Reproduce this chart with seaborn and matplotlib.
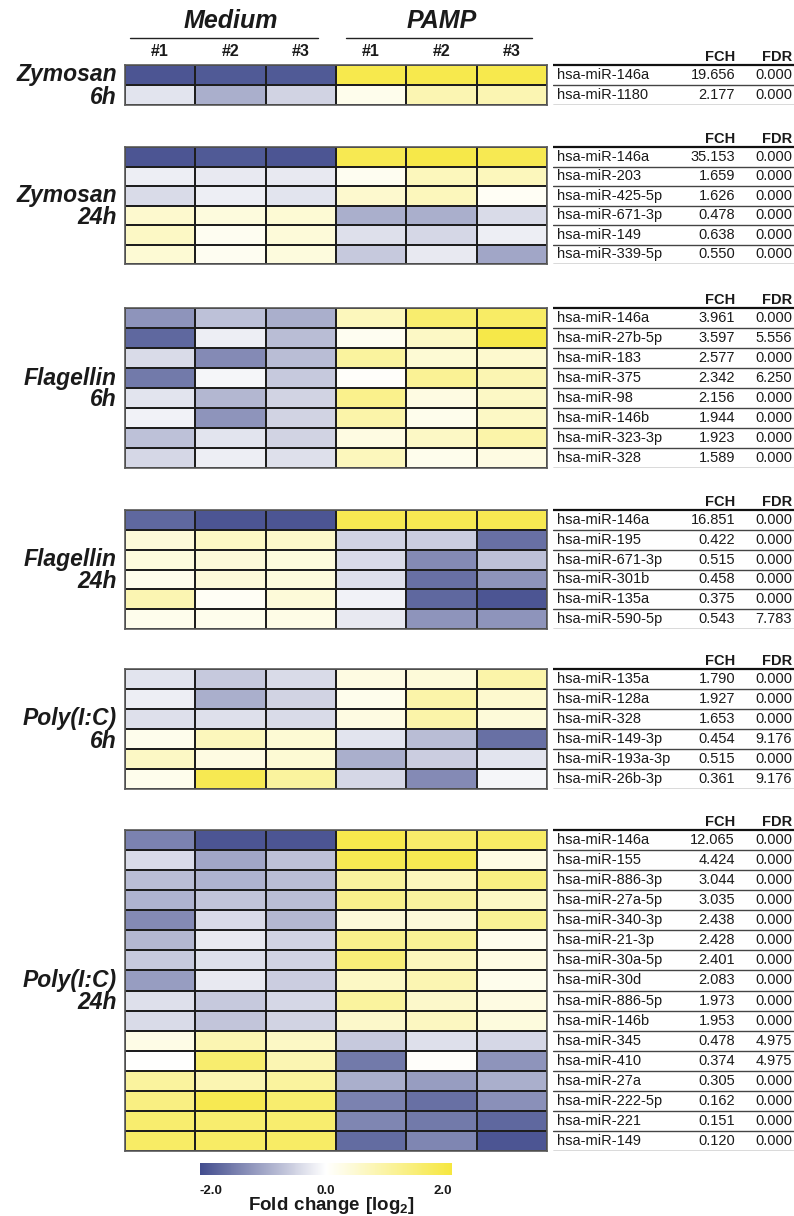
import numpy as np
import pandas as pd
import matplotlib
matplotlib.use("Agg")
import matplotlib.pyplot as plt
import seaborn as sns
from matplotlib.colors import LinearSegmentedColormap

sns.set_theme(style="white")
plt.rcParams['font.family'] = ['Liberation Sans', 'DejaVu Sans']
plt.rcParams['mathtext.fontset'] = 'custom'
plt.rcParams['mathtext.rm'] = 'Liberation Sans'
plt.rcParams['mathtext.bf'] = 'Liberation Sans:bold'

# ---------------- data ----------------
samples = ['#1', '#2', '#3', '#1', '#2', '#3']
groups = ['Medium', 'PAMP']

zym6_title = ['Zymosan', '6h']
zym6_names = ['hsa-miR-146a', 'hsa-miR-1180']
zym6_fch = [19.656, 2.177]
zym6_fdr = [0.000, 0.000]
zym6_vals = [[-1.9, -1.85, -1.85, 1.85, 1.85, 1.85],
             [-0.3, -0.9, -0.5, 0.2, 0.8, 0.8]]

zym24_title = ['Zymosan', '24h']
zym24_names = ['hsa-miR-146a', 'hsa-miR-203', 'hsa-miR-425-5p', 'hsa-miR-671-3p',
               'hsa-miR-149', 'hsa-miR-339-5p']
zym24_fch = [35.153, 1.659, 1.626, 0.478, 0.638, 0.550]
zym24_fdr = [0.000, 0.000, 0.000, 0.000, 0.000, 0.000]
zym24_vals = [[-1.9, -1.85, -1.9, 1.8, 1.9, 1.8],
              [-0.2, -0.25, -0.25, 0.15, 0.7, 0.7],
              [-0.4, -0.2, -0.3, 0.5, 0.7, 0.1],
              [0.5, 0.35, 0.45, -0.9, -0.9, -0.4],
              [0.6, 0.15, 0.4, -0.35, -0.45, -0.2],
              [0.45, 0.15, 0.35, -0.6, -0.25, -1.0]]

flag6_title = ['Flagellin', '6h']
flag6_names = ['hsa-miR-146a', 'hsa-miR-27b-5p', 'hsa-miR-183', 'hsa-miR-375',
               'hsa-miR-98', 'hsa-miR-146b', 'hsa-miR-323-3p', 'hsa-miR-328']
flag6_fch = [3.961, 3.597, 2.577, 2.342, 2.156, 1.944, 1.923, 1.589]
flag6_fdr = [0.000, 5.556, 0.000, 6.250, 0.000, 0.000, 0.000, 0.000]
flag6_vals = [[-1.2, -0.7, -0.9, 0.7, 1.5, 1.6],
              [-1.7, -0.2, -0.75, 0.15, 0.6, 1.9],
              [-0.4, -1.3, -0.75, 1.0, 0.45, 0.5],
              [-1.5, -0.1, -0.6, 0.05, 1.1, 0.8],
              [-0.3, -0.8, -0.5, 1.2, 0.3, 0.6],
              [-0.15, -1.2, -0.5, 0.9, 0.2, 0.6],
              [-0.7, -0.3, -0.5, 0.3, 0.6, 0.9],
              [-0.45, -0.2, -0.35, 0.7, 0.2, 0.3]]

flag24_title = ['Flagellin', '24h']
flag24_names = ['hsa-miR-146a', 'hsa-miR-195', 'hsa-miR-671-3p', 'hsa-miR-301b',
                'hsa-miR-135a', 'hsa-miR-590-5p']
flag24_fch = [16.851, 0.422, 0.515, 0.458, 0.375, 0.543]
flag24_fdr = [0.000, 0.000, 0.000, 0.000, 0.000, 7.783]
flag24_vals = [[-1.7, -1.9, -1.9, 1.8, 1.8, 1.8],
               [0.4, 0.6, 0.55, -0.5, -0.55, -1.6],
               [0.35, 0.4, 0.35, -0.4, -1.3, -0.7],
               [0.2, 0.4, 0.35, -0.35, -1.6, -1.2],
               [0.8, 0.1, 0.4, -0.15, -1.7, -1.9],
               [0.2, 0.2, 0.25, -0.25, -1.2, -1.2]]

poly6_title = ['Poly(I:C)', '6h']
poly6_names = ['hsa-miR-135a', 'hsa-miR-128a', 'hsa-miR-328', 'hsa-miR-149-3p',
               'hsa-miR-193a-3p', 'hsa-miR-26b-3p']
poly6_fch = [1.790, 1.927, 1.653, 0.454, 0.515, 0.361]
poly6_fdr = [0.000, 0.000, 0.000, 9.176, 0.000, 9.176]
poly6_vals = [[-0.3, -0.6, -0.4, 0.3, 0.4, 0.9],
              [-0.2, -0.9, -0.5, 0.2, 0.9, 0.5],
              [-0.35, -0.35, -0.4, 0.3, 0.9, 0.4],
              [0.2, 0.7, 0.45, -0.3, -0.75, -1.6],
              [0.6, 0.3, 0.45, -0.9, -0.55, -0.3],
              [0.2, 1.8, 1.0, -0.45, -1.3, -0.1]]

poly24_title = ['Poly(I:C)', '24h']
poly24_names = ['hsa-miR-146a', 'hsa-miR-155', 'hsa-miR-886-3p', 'hsa-miR-27a-5p',
                'hsa-miR-340-3p', 'hsa-miR-21-3p', 'hsa-miR-30a-5p', 'hsa-miR-30d',
                'hsa-miR-886-5p', 'hsa-miR-146b', 'hsa-miR-345', 'hsa-miR-410',
                'hsa-miR-27a', 'hsa-miR-222-5p', 'hsa-miR-221', 'hsa-miR-149']
poly24_fch = [12.065, 4.424, 3.044, 3.035, 2.438, 2.428, 2.401, 2.083,
              1.973, 1.953, 0.478, 0.374, 0.305, 0.162, 0.151, 0.120]
poly24_fdr = [0.000, 0.000, 0.000, 0.000, 0.000, 0.000, 0.000, 0.000,
              0.000, 0.000, 4.975, 4.975, 0.000, 0.000, 0.000, 0.000]
poly24_vals = [[-1.4, -1.9, -1.9, 1.85, 1.55, 1.6],
               [-0.4, -1.0, -0.7, 1.8, 1.8, 0.3],
               [-0.75, -0.85, -0.75, 1.0, 0.7, 1.3],
               [-0.85, -0.65, -0.75, 1.2, 1.0, 0.6],
               [-1.3, -0.4, -0.8, 0.4, 0.4, 1.1],
               [-0.8, -0.25, -0.5, 1.2, 1.1, 0.2],
               [-0.6, -0.35, -0.5, 1.4, 0.7, 0.3],
               [-1.1, -0.25, -0.55, 0.6, 0.8, 0.2],
               [-0.35, -0.6, -0.45, 1.0, 0.55, 0.3],
               [-0.4, -0.65, -0.5, 0.55, 0.65, 0.35],
               [0.25, 0.8, 0.6, -0.6, -0.35, -0.45],
               [0.0, 1.5, 0.8, -1.5, 0.05, -1.2],
               [1.0, 0.8, 1.0, -0.9, -1.1, -0.9],
               [1.3, 1.8, 1.5, -1.4, -1.6, -1.25],
               [1.5, 1.5, 1.5, -1.35, -1.5, -1.7],
               [1.6, 1.6, 1.6, -1.65, -1.35, -1.9]]

cbar_ticks = [-2.0, 0.0, 2.0]
cbar_label = r'$\mathbf{Fold\ change\ [log_2]}$'

# ---------------- layout (pixels) ----------------
W, H = 794, 1216
fig = plt.figure(figsize=(W / 100, H / 100), dpi=100)


def ax_px(x0, y0, x1, y1):
    return fig.add_axes([x0 / W, 1 - y1 / H, (x1 - x0) / W, (y1 - y0) / H])


cmap = LinearSegmentedColormap.from_list(
    'bwy', ['#434d8e', '#ffffff', '#f6e740'])

HM_X0, HM_X1 = 125, 547
TB_X0, TB_X1 = 553, 794

panels = [
    (zym6_title, zym6_names, zym6_fch, zym6_fdr, zym6_vals, 65, 105),
    (zym24_title, zym24_names, zym24_fch, zym24_fdr, zym24_vals, 147, 264),
    (flag6_title, flag6_names, flag6_fch, flag6_fdr, flag6_vals, 308, 468),
    (flag24_title, flag24_names, flag24_fch, flag24_fdr, flag24_vals, 510, 629),
    (poly6_title, poly6_names, poly6_fch, poly6_fdr, poly6_vals, 669, 789),
    (poly24_title, poly24_names, poly24_fch, poly24_fdr, poly24_vals, 830, 1151),
]

cols = [f'{g} {s}' for g, s in zip([groups[0]] * 3 + [groups[1]] * 3, samples)]
first_ax = None
for title, names, fch, fdr, vals, top, bot in panels:
    n = len(names)
    df = pd.DataFrame(vals, index=names, columns=cols)
    ax = ax_px(HM_X0, top, HM_X1, bot)
    sns.heatmap(df, ax=ax, cmap=cmap, vmin=-2, vmax=2, cbar=False,
                linewidths=1.3, linecolor='#1e1e1e',
                xticklabels=False, yticklabels=False)
    ax.set_xlabel('')
    ax.set_ylabel('')
    for sp in ax.spines.values():
        sp.set_visible(True)
        sp.set_color('#5a5a5a')
        sp.set_linewidth(1.2)
    if first_ax is None:
        first_ax = ax

    # panel label
    cy = (top + bot) / 2
    fig.text((HM_X0 - 8) / W, 1 - (cy - 10) / H, title[0], ha='right', va='center',
             fontsize=16.5, fontweight='bold', fontstyle='italic', color='#1a1a1a')
    fig.text((HM_X0 - 8) / W, 1 - (cy + 12) / H, title[1], ha='right', va='center',
             fontsize=16.5, fontweight='bold', fontstyle='italic', color='#1a1a1a')

    # table
    tax = ax_px(TB_X0, top - 20, TB_X1, bot)
    tax.set_xlim(0, 1)
    tax.set_ylim(n, -20 / ((bot - top) / n))
    tax.axis('off')
    tax.axhline(0, color='#111111', lw=1.6)
    for i in range(n):
        tax.axhline(i + 1, color='#444444', lw=1.0)
        tax.text(4 / 241, i + 0.5, names[i], ha='left', va='center',
                 fontsize=10.5, color='#1a1a1a')
        tax.text(182 / 241, i + 0.5, f'{fch[i]:.3f}', ha='right', va='center',
                 fontsize=10.5, color='#1a1a1a')
        tax.text(239 / 241, i + 0.5, f'{fdr[i]:.3f}', ha='right', va='center',
                 fontsize=10.5, color='#1a1a1a')
    tax.text(182 / 241, -0.22, 'FCH', ha='right', va='baseline',
             fontsize=10.5, fontweight='bold', color='#1a1a1a')
    tax.text(239 / 241, -0.22, 'FDR', ha='right', va='baseline',
             fontsize=10.5, fontweight='bold', color='#1a1a1a')

# column headers on the first panel
for j, s in enumerate(samples):
    first_ax.text(j + 0.5, -0.7, s, ha='center', va='center', fontsize=11.5,
                  fontweight='bold', color='#1a1a1a', clip_on=False)
first_ax.text(1.5, -2.2, groups[0], ha='center', va='center', fontsize=18,
              fontweight='bold', fontstyle='italic', color='#1a1a1a', clip_on=False)
first_ax.text(4.5, -2.2, groups[1], ha='center', va='center', fontsize=18,
              fontweight='bold', fontstyle='italic', color='#1a1a1a', clip_on=False)
first_ax.plot([0.07, 2.74], [-1.35, -1.35], color='#222222', lw=1.0, clip_on=False)
first_ax.plot([3.14, 5.79], [-1.35, -1.35], color='#222222', lw=1.0, clip_on=False)

# colorbar
cax = ax_px(200, 1163, 452, 1175)
cb = fig.colorbar(first_ax.collections[0], cax=cax, orientation='horizontal')
cb.outline.set_visible(False)
cax.set_xticks([])
trans = cax.get_xaxis_transform()
cax.text(cbar_ticks[0], -0.8, f'{cbar_ticks[0]:.1f}', ha='left', va='top',
         fontsize=9.5, fontweight='bold', transform=trans, color='#1a1a1a')
cax.text(cbar_ticks[1], -0.8, f'{cbar_ticks[1]:.1f}', ha='center', va='top',
         fontsize=9.5, fontweight='bold', transform=trans, color='#1a1a1a')
cax.text(cbar_ticks[2], -0.8, f'{cbar_ticks[2]:.1f}', ha='right', va='top',
         fontsize=9.5, fontweight='bold', transform=trans, color='#1a1a1a')
fig.text(331 / W, 1 - 1210 / H, cbar_label, ha='center', va='baseline',
         fontsize=13.5, color='#1a1a1a')

fig.savefig('out.png', dpi=100)
